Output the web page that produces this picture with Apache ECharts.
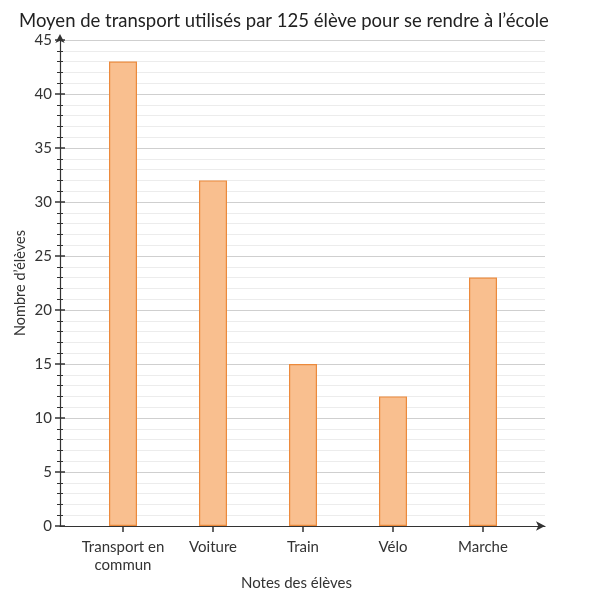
<!DOCTYPE html>
<html><head><meta charset="utf-8">
<script src="https://cdn.jsdelivr.net/npm/echarts@6/dist/echarts.min.js"></script>
<style>html,body{margin:0;padding:0;background:#fff}#c{width:605px;height:605px}</style>
</head><body><div id="c"></div>
<script>
const categories = ['Transport en\ncommun', 'Voiture', 'Train', 'Vélo', 'Marche'];
const values = [43, 32, 15, 12, 23];
const yTicks = [0, 5, 10, 15, 20, 25, 30, 35, 40, 45];

const font = 'Lato, "DejaVu Sans", sans-serif';
const chart = echarts.init(document.getElementById('c'));
const TOP = 40, BOTTOM = 605 - 526;
chart.setOption({
  animation: false,
  title: { text: 'Moyen de transport utilisés par 125 élève pour se rendre à l’école', left: 14, top: 7,
    textStyle: { fontFamily: font, fontSize: 18.5, fontWeight: 'normal', color: '#222' } },
  graphic: [
    { type: 'text', left: 241, top: 576, style: { text: 'Notes des élèves', font: '15px ' + font, fill: '#333' } },
    { type: 'text', x: 13, y: 283, rotation: Math.PI / 2, style: { text: 'Nombre d’élèves', font: '14.5px ' + font, fill: '#333', align: 'center', verticalAlign: 'top' } }
  ],
  grid: [
    { left: 60, right: 605 - 545, top: TOP, bottom: BOTTOM },
    { left: 78, right: 605 - 528, top: TOP, bottom: BOTTOM },
    { left: 60, right: 605 - 545, top: TOP, bottom: BOTTOM }
  ],
  xAxis: [
    { gridIndex: 0, type: 'value', min: 0, max: 1, axisLine: { show: true, symbol: ['none', 'arrow'], symbolSize: [7, 9], lineStyle: { color: '#333', width: 1.2 } },
      axisTick: { show: false }, axisLabel: { show: false }, splitLine: { show: false } },
    { gridIndex: 1, type: 'category', data: categories, axisLine: { show: false },
      axisTick: { show: true, alignWithLabel: true, length: 6, lineStyle: { color: '#333', width: 1.5 } },
      axisLabel: { interval: 0, fontFamily: font, fontSize: 15, color: '#333', margin: 12, lineHeight: 18 } },
    { gridIndex: 2, type: 'value', min: 0, max: 1, show: false }
  ],
  yAxis: [
    { gridIndex: 0, type: 'value', min: 0, max: 45, interval: 5,
      axisLine: { show: true, symbol: ['none', 'arrow'], symbolSize: [7, 9], symbolOffset: [0, 6], lineStyle: { color: '#333', width: 1.2 } },
      axisTick: { show: true, length: 5, lineStyle: { color: '#333', width: 1.5 } },
      minorTick: { show: true, splitNumber: 5, length: 3, lineStyle: { color: '#333' } },
      axisLabel: { fontFamily: font, fontSize: 15, color: '#333', margin: 8, customValues: yTicks },
      splitLine: { show: true, lineStyle: { color: '#cfcfcf', width: 1 } },
      minorSplitLine: { show: true, lineStyle: { color: '#ececec', width: 1 } } },
    { gridIndex: 1, type: 'value', min: 0, max: 45, show: false },
    { gridIndex: 2, type: 'value', min: 0, max: 45, interval: 5,
      axisLine: { show: false }, axisLabel: { show: false }, splitLine: { show: false },
      axisTick: { show: true, inside: true, length: 5, lineStyle: { color: '#333', width: 1.5 } },
      minorTick: { show: true, splitNumber: 5, length: 3, lineStyle: { color: '#333' } } }
  ],
  series: [{
    type: 'bar', xAxisIndex: 1, yAxisIndex: 1, data: values, barWidth: 28,
    itemStyle: { color: '#f9bf8f', borderColor: '#ec8a3c', borderWidth: 1.2 }
  }]
});
</script></body></html>
